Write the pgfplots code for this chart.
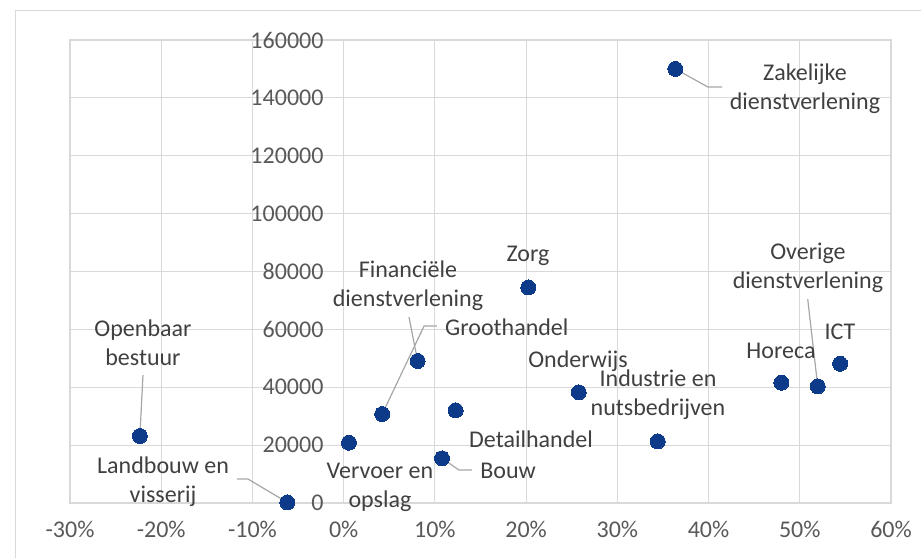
\documentclass[border=0pt]{standalone}
\usepackage{pgfplots}
\pgfplotsset{compat=1.18}
\usepackage{fontspec}
\setmainfont{Carlito}
\definecolor{gridc}{HTML}{D9D9D9}
\definecolor{tickc}{HTML}{595959}
\definecolor{labc}{HTML}{404040}
\definecolor{dotc}{RGB}{14,58,138}
\definecolor{leadc}{HTML}{A6A6A6}
\tikzset{
  lab/.style={font=\fontsize{24bp}{29bp}\selectfont, text=labc, align=center, inner sep=0pt},
  lead/.style={leadc, line width=1.2bp},
}
\begin{document}
\begin{tikzpicture}
\path[use as bounding box] (0,0) rectangle (921bp,-558bp);
\draw[gridc, line width=1bp] (15.5bp,-558bp) -- (15.5bp,-10.5bp) -- (921bp,-10.5bp);
\begin{axis}[
  at={(70bp,-503bp)}, anchor=south west,
  scale only axis, width=821bp, height=463bp,
  xmin=-30, xmax=60, ymin=0, ymax=160000,
  xtick={-30,-20,...,60}, ytick={0,20000,...,160000},
  grid=major, major grid style={gridc, line width=1.2bp},
  axis line style={gridc, line width=1.2bp},
  major tick length=0pt,
  scaled y ticks=false,
  clip=false,
  /pgf/number format/assume math mode=true,
  ticklabel style={font=\fontsize{24bp}{28bp}\selectfont, text=tickc},
  yticklabel={\pgfmathprintnumber[fixed,1000 sep={}]{\tick}},
  yticklabel style={anchor=east, xshift=257bp},
  xticklabel={\pgfmathprintnumber{\tick}\%},
  xticklabel style={yshift=-15bp},
]
% leader lines
\draw[lead] (axis cs:36.36,150000) -- (axis cs:39.94,143730) -- (axis cs:41.48,143730);
\draw[lead] (axis cs:7.16,64260) -- (axis cs:8.11,49070);
\draw[lead] (axis cs:4.23,30750) -- (axis cs:8.81,61150) -- (axis cs:10.23,61150);
\draw[lead] (axis cs:10.78,15450) -- (axis cs:12.64,11400) -- (axis cs:14.07,11400);
\draw[lead] (axis cs:50.87,70480) -- (axis cs:51.97,40320);
\draw[lead] (axis cs:-22.0,44220) -- (axis cs:-22.34,23150);
\draw[lead] (axis cs:-6.18,200) -- (axis cs:-10.49,8290) -- (axis cs:-11.69,8290);

\addplot[only marks, mark=*, mark size=7.5bp, color=dotc, mark options={fill=dotc, draw=dotc, line width=0pt}] coordinates {
(36.36,150000) (20.24,74500) (8.11,49070) (4.23,30750) (12.28,32030)
(0.58,20840) (10.78,15450) (25.77,38250) (34.43,21300) (47.98,41560)
(51.97,40320) (54.42,48130) (-22.34,23150) (-6.18,200)};

% data labels
\node[lab] at (axis cs:50.57,143210) {Zakelijke\\dienstverlening};
\node[lab] at (axis cs:20.21,85340) {Zorg};
\node[lab] at (axis cs:7.05,74970) {Financiële\\dienstverlening};
\node[lab, anchor=west] at (axis cs:11.11,60810) {Groothandel};
\node[lab] at (axis cs:25.69,49060) {Onderwijs};
\node[lab] at (axis cs:34.46,37310) {Industrie en\\nutsbedrijven};
\node[lab] at (axis cs:20.54,22110) {Detailhandel};
\node[lab] at (axis cs:18.02,11060) {Bouw};
\node[lab] at (axis cs:3.98,5355) {Vervoer en\\opslag};
\node[lab] at (axis cs:47.94,52520) {Horeca};
\node[lab] at (axis cs:54.41,59080) {ICT};
\node[lab] at (axis cs:50.90,81370) {Overige\\dienstverlening};
\node[lab] at (axis cs:-22.0,55450) {Openbaar\\bestuur};
\node[lab] at (axis cs:-19.8,7430) {Landbouw en\\visserij};
\end{axis}
\end{tikzpicture}
\end{document}
